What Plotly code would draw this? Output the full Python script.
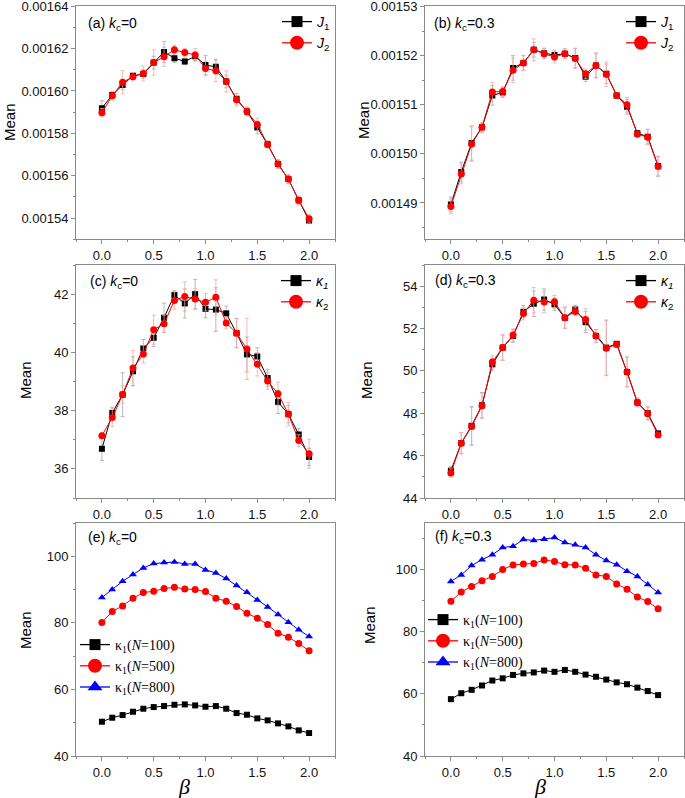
import plotly.graph_objects as go

beta = [round(0.1 * i, 1) for i in range(21)]

# Panel (a): J, k_c = 0
a_J1 = [0.0015919, 0.0015981, 0.0016028, 0.0016072, 0.0016080, 0.0016134, 0.0016184,
        0.0016155, 0.0016139, 0.0016164, 0.0016122, 0.0016114, 0.0016045, 0.0015963,
        0.0015903, 0.0015828, 0.0015748, 0.0015655, 0.0015584, 0.0015484, 0.0015389]
a_J2 = [0.0015897, 0.0015977, 0.0016041, 0.0016067, 0.0016083, 0.0016134, 0.0016161,
        0.0016195, 0.0016181, 0.0016170, 0.0016106, 0.0016095, 0.0016045, 0.0015959,
        0.0015903, 0.0015842, 0.0015747, 0.0015655, 0.0015584, 0.0015484, 0.0015397]
a_J1_err = [0.35, 0.15, 0.2, 0.15, 0.2, 0.3, 0.5, 0.2, 0.15, 0.2, 0.45, 0.35, 0.3, 0.25,
            0.2, 0.3, 0.15, 0.2, 0.2, 0.15, 0.15]
a_J2_err = [0.2, 0.2, 0.55, 0.2, 0.35, 0.6, 0.45, 0.2, 0.2, 0.3, 0.35, 0.5, 0.5, 0.3,
            0.2, 0.3, 0.2, 0.2, 0.2, 0.2, 0.2]

# Panel (b): J, k_c = 0.3
b_J1 = [0.0014897, 0.0014963, 0.0015022, 0.0015054, 0.0015119, 0.0015125, 0.0015175,
        0.0015185, 0.0015212, 0.0015205, 0.0015201, 0.0015204, 0.0015195, 0.0015157,
        0.0015180, 0.0015163, 0.0015119, 0.0015096, 0.0015042, 0.0015035, 0.0014975]
b_J2 = [0.0014893, 0.0014959, 0.0015020, 0.0015054, 0.0015126, 0.0015127, 0.0015170,
        0.0015185, 0.0015212, 0.0015204, 0.0015197, 0.0015204, 0.0015194, 0.0015163,
        0.0015180, 0.0015162, 0.0015119, 0.0015100, 0.0015040, 0.0015034, 0.0014974]
b_J1_err = [0.15, 0.2, 0.35, 0.1, 0.2, 0.1, 0.25, 0.15, 0.15, 0.1, 0.1, 0.1, 0.2, 0.1,
            0.25, 0.2, 0.05, 0.15, 0.05, 0.15, 0.2]
b_J2_err = [0.15, 0.2, 0.35, 0.1, 0.2, 0.1, 0.25, 0.15, 0.22, 0.1, 0.12, 0.1, 0.2, 0.1,
            0.25, 0.25, 0.05, 0.15, 0.05, 0.15, 0.2]

# Panel (c): kappa, k_c = 0
c_k1 = [36.69, 37.92, 38.55, 39.35, 40.14, 40.50, 41.19, 41.97, 41.68, 42.00, 41.49,
        41.47, 41.34, 40.66, 39.93, 39.86, 39.12, 38.30, 37.88, 37.18, 36.41]
c_k2 = [37.14, 37.76, 38.55, 39.46, 39.94, 40.78, 40.98, 41.78, 41.92, 41.83, 41.72,
        41.89, 41.01, 40.66, 40.12, 39.59, 39.02, 38.58, 37.88, 36.97, 36.52]
c_k1_err = [0.4, 0.2, 0.75, 0.5, 0.3, 0.3, 0.5, 0.15, 0.5, 0.5, 0.3, 0.75, 0.25, 0.5,
            0.6, 0.3, 0.3, 0.4, 0.3, 0.2, 0.3]
c_k2_err = [0.1, 0.3, 0.3, 0.6, 0.3, 0.5, 0.3, 0.3, 0.5, 0.35, 0.3, 0.6, 0.2, 0.5,
            1.05, 0.4, 0.3, 0.4, 0.4, 0.2, 0.5]

# Panel (d): kappa, k_c = 0.3
d_k1 = [45.29, 46.59, 47.41, 48.38, 50.31, 51.10, 51.65, 52.79, 53.17, 53.37, 53.14,
        52.51, 52.90, 52.30, 51.65, 51.10, 51.28, 49.95, 48.51, 48.00, 47.05]
d_k2 = [45.18, 46.59, 47.38, 48.35, 50.42, 51.10, 51.69, 52.71, 53.34, 53.25, 53.26,
        52.51, 52.81, 52.43, 51.65, 51.07, 51.25, 49.95, 48.51, 47.98, 46.97]
d_k1_err = [0.2, 0.5, 0.9, 0.6, 0.3, 0.6, 0.3, 0.3, 0.6, 0.5, 0.3, 0.5, 0.2, 0.5, 0.3,
            1.3, 0.1, 0.7, 0.2, 0.3, 0.1]
d_k2_err = [0.2, 0.5, 0.9, 0.6, 0.3, 0.6, 0.3, 0.3, 0.6, 0.5, 0.3, 0.5, 0.2, 0.5, 0.3,
            1.3, 0.1, 0.7, 0.2, 0.3, 0.1]

# Panel (e): kappa_1 for N, k_c = 0
e_N100 = [50.3, 51.5, 52.3, 53.3, 54.2, 54.7, 55.0, 55.4, 55.5, 55.2, 54.8, 55.0, 54.2,
          52.9, 52.4, 51.3, 50.7, 49.8, 48.9, 47.7, 46.9]
e_N500 = [80.1, 83.4, 85.1, 87.4, 89.1, 89.5, 90.3, 90.7, 90.2, 90.0, 89.4, 87.4, 86.5,
          84.9, 82.9, 81.4, 79.5, 76.9, 75.7, 73.8, 71.6]
e_N800 = [87.6, 90.0, 92.5, 94.5, 96.5, 97.8, 98.1, 98.3, 97.7, 97.7, 95.9, 95.0, 93.3,
          91.2, 89.2, 86.9, 84.8, 82.5, 80.2, 77.9, 75.9]

# Panel (f): kappa_1 for N, k_c = 0.3
f_N100 = [58.3, 60.2, 61.3, 62.7, 64.3, 65.0, 66.1, 66.6, 66.9, 67.5, 67.1, 67.7, 67.1,
          66.2, 65.5, 64.6, 63.7, 63.1, 62.0, 60.9, 59.6]
f_N500 = [89.8, 92.8, 94.6, 96.4, 97.8, 100.0, 101.5, 101.8, 102.0, 103.1, 102.6, 101.6,
          101.5, 100.4, 98.3, 97.8, 95.4, 93.7, 91.2, 89.7, 87.4]
f_N800 = [96.2, 98.3, 101.3, 103.2, 104.8, 107.1, 107.5, 109.7, 109.4, 109.8, 110.3,
          108.7, 108.0, 107.1, 104.8, 102.9, 101.6, 99.5, 97.8, 95.2, 92.6]

panel_labels = ["(a) <i>k</i><sub>c</sub>=0", "(b) <i>k</i><sub>c</sub>=0.3",
                "(c) <i>k</i><sub>c</sub>=0", "(d) <i>k</i><sub>c</sub>=0.3",
                "(e) <i>k</i><sub>c</sub>=0", "(f) <i>k</i><sub>c</sub>=0.3"]
J_names = ["<i>J</i><sub>1</sub>", "<i>J</i><sub>2</sub>"]
K_names = ["<i>κ</i><sub><i>1</i></sub>", "<i>κ</i><sub>2</sub>"]
N_names = ["κ<sub>1</sub>(<i>N</i>=100)", "κ<sub>1</sub>(<i>N</i>=500)",
           "κ<sub>1</sub>(<i>N</i>=800)"]

W, H = 685, 798


def px(x):
    return x / W


def py(y):
    return 1 - y / H


fig = go.Figure()

BLACK = "#000000"
RED = "#ff0000"
BLUE = "#0000ff"
GRAY_ERR = "#a8a8a8"
RED_ERR = "#f5a8a8"

STY = {
    "k": dict(color=BLACK, symbol="square", size=6, lsize=11),
    "r": dict(color=RED, symbol="circle", size=7, lsize=14),
    "b": dict(color=BLUE, symbol="triangle-up", size=7, lsize=13),
}


def add_series(x, y, name, sty, suf, leg, err=None, errcolor=None):
    s = STY[sty]
    kw = {}
    if err is not None:
        kw["error_y"] = dict(type="data", array=err, color=errcolor,
                             thickness=0.8, width=2)
    fig.add_trace(go.Scatter(
        x=x, y=y, name=name, mode="lines+markers", showlegend=False,
        xaxis="x" + suf, yaxis="y" + suf,
        line=dict(color=s["color"], width=1),
        marker=dict(symbol=s["symbol"], size=s["size"], color=s["color"]), **kw))
    # legend entry with the larger legend symbol
    fig.add_trace(go.Scatter(
        x=[None], y=[None], name=name, mode="lines+markers", showlegend=True,
        xaxis="x" + suf, yaxis="y" + suf, legend=leg,
        line=dict(color=s["color"], width=1.3),
        marker=dict(symbol=s["symbol"], size=s["lsize"], color=s["color"])))


panels = [
    ("", "legend", a_J1, a_J2, a_J1_err, a_J2_err, 1e-5, J_names),
    ("2", "legend2", b_J1, b_J2, b_J1_err, b_J2_err, 1e-5, J_names),
    ("3", "legend3", c_k1, c_k2, c_k1_err, c_k2_err, 1.0, K_names),
    ("4", "legend4", d_k1, d_k2, d_k1_err, d_k2_err, 1.0, K_names),
]
for suf, leg, s1, s2, e1, e2, scale, names in panels:
    add_series(beta, s1, names[0], "k", suf, leg, [v * scale for v in e1], GRAY_ERR)
    add_series(beta, s2, names[1], "r", suf, leg, [v * scale for v in e2], RED_ERR)

for suf, leg, s1, s2, s3 in [("5", "legend5", e_N100, e_N500, e_N800),
                             ("6", "legend6", f_N100, f_N500, f_N800)]:
    add_series(beta, s1, N_names[0], "k", suf, leg)
    add_series(beta, s2, N_names[1], "r", suf, leg)
    add_series(beta, s3, N_names[2], "b", suf, leg)

col_x = [(76, 335), (425, 684)]
row_y = [(6, 239.3), (265, 498), (523, 756)]

yranges = [
    dict(range=[0.00153, 0.0016401], tick0=0.00154, dtick=0.00002, tickformat=".5f"),
    dict(range=[0.0014826, 0.0015301], tick0=0.00149, dtick=0.00001, tickformat=".5f"),
    dict(range=[35, 43], tick0=36, dtick=2),
    dict(range=[44, 55], tick0=44, dtick=2),
    dict(range=[40, 110], tick0=40, dtick=20),
    dict(range=[40, 115], tick0=40, dtick=20),
]

AX = "#8a8a8a"
tickfont = dict(family="Liberation Sans, Arial", size=13, color="#111111")
layout = {}
for i in range(6):
    r, c = divmod(i, 2)
    suf = "" if i == 0 else str(i + 1)
    x0, x1 = col_x[c]
    y0, y1 = row_y[r]
    layout["xaxis" + suf] = dict(
        domain=[px(x0), px(x1)], anchor="y" + suf, range=[-0.25, 2.25],
        tick0=0, dtick=0.5, tickformat=".1f", showgrid=False, zeroline=False,
        showline=True, linecolor=AX, linewidth=1, mirror=True,
        ticks="outside", ticklen=4, tickcolor=AX, tickfont=tickfont,
        ticklabeloverflow="allow",
        minor=dict(ticks="outside", ticklen=2, dtick=0.25, tickcolor=AX, showgrid=False))
    yr = yranges[i]
    layout["yaxis" + suf] = dict(
        domain=[py(y1), py(y0)], anchor="x" + suf, showgrid=False, zeroline=False,
        showline=True, linecolor=AX, linewidth=1, mirror=True,
        ticks="outside", ticklen=4, tickcolor=AX, tickfont=tickfont,
        ticklabeloverflow="allow",
        minor=dict(ticks="outside", ticklen=2, dtick=yr["dtick"] / 2,
                   tickcolor=AX, showgrid=False),
        **yr)

# legends
legfont = dict(family="Liberation Sans, Arial", size=14, color="#000000")
legfont_serif = dict(family="Liberation Serif, Times New Roman", size=14, color="#000000")
leg_pos = [
    dict(x=px(277), y=py(6), font=legfont),
    dict(x=px(621), y=py(6), font=legfont),
    dict(x=px(276), y=py(265), font=legfont),
    dict(x=px(621), y=py(265), font=legfont),
    dict(x=px(75), y=py(629), font=legfont_serif),
    dict(x=px(423), y=py(604), font=legfont_serif),
]
for i, lp in enumerate(leg_pos):
    name = "legend" if i == 0 else "legend%d" % (i + 1)
    layout[name] = dict(xanchor="left", yanchor="top", bgcolor="rgba(0,0,0,0)",
                        borderwidth=0, tracegroupgap=0, **lp)

annotations = []
lab_pos = [(86, 24), (432, 24), (88, 282), (433, 281), (86, 538), (433, 537)]
for (lx, ly), t in zip(lab_pos, panel_labels):
    annotations.append(dict(x=px(lx), y=py(ly), xref="paper", yref="paper", text=t,
                            showarrow=False, xanchor="left", yanchor="middle",
                            font=dict(family="Liberation Sans, Arial", size=14,
                                      color="#000000")))
mean_pos = [(10, 122), (363, 120), (25, 380), (366, 380), (25, 630), (369, 625)]
for mx, my in mean_pos:
    annotations.append(dict(x=px(mx), y=py(my), xref="paper", yref="paper", text="Mean",
                            showarrow=False, textangle=-90, xanchor="center",
                            yanchor="middle",
                            font=dict(family="Liberation Sans, Arial", size=15,
                                      color="#000000")))
for bx in (184, 540):
    annotations.append(dict(x=px(bx), y=py(786), xref="paper", yref="paper",
                            text="<i>β</i>", showarrow=False, xanchor="center",
                            yanchor="middle",
                            font=dict(family="Liberation Serif, Times New Roman",
                                      size=22, color="#000000")))

fig.update_layout(width=W, height=H,
                  margin=dict(l=0, r=0, t=0, b=0, autoexpand=False),
                  paper_bgcolor="white", plot_bgcolor="white",
                  showlegend=True, annotations=annotations, **layout)

fig.write_html(
    "out.html",
    config={"displayModeBar": False},
    post_script="document.body.style.margin='0';document.body.style.padding='0';"
                "document.body.style.overflow='hidden';")
